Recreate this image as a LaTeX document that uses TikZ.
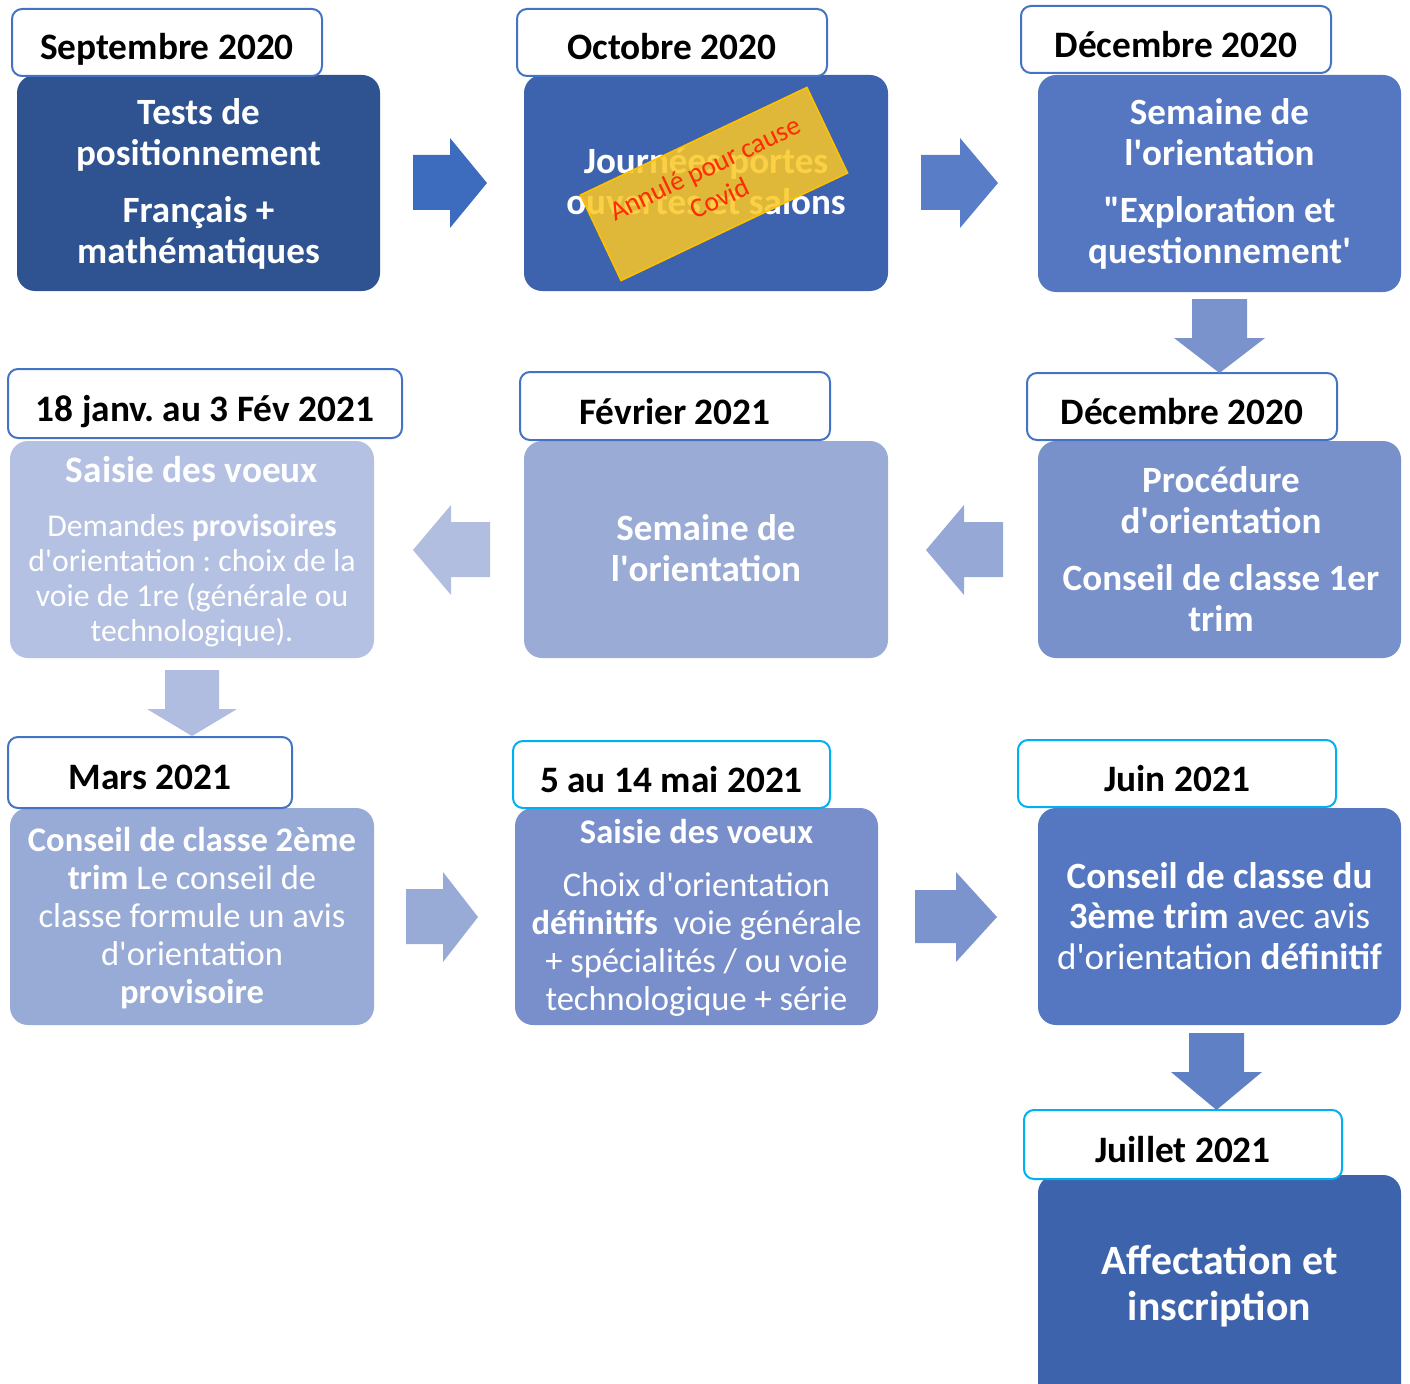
\documentclass[tikz,border=0pt]{standalone}
\usepackage{fontspec}
\setmainfont{Carlito}
\frenchspacing
\newcommand{\ap}{\textquotesingle}
\newcommand{\qd}{\textquotedbl}
\definecolor{hblue}{HTML}{4472C4}
\definecolor{hcyan}{HTML}{00B0F0}
\definecolor{cA}{HTML}{2F5290}
\definecolor{cB}{HTML}{3D63AE}
\definecolor{cC}{HTML}{5577C2}
\definecolor{cD}{HTML}{7891CB}
\definecolor{cE}{HTML}{9AABD6}
\definecolor{cF}{HTML}{B5C1E2}
\definecolor{cG}{HTML}{98AAD6}
\definecolor{cH}{HTML}{798FCB}
\definecolor{cI}{HTML}{5577C1}
\definecolor{cJ}{HTML}{3D63AD}
\definecolor{aR1}{HTML}{3D6CBE}
\definecolor{aR2}{HTML}{5A7DC8}
\definecolor{aD1}{HTML}{7A93CC}
\definecolor{aL2}{HTML}{96A8D6}
\definecolor{aL1}{HTML}{B2BEE0}
\definecolor{aD2}{HTML}{B0BDE0}
\definecolor{aR3}{HTML}{98AAD6}
\definecolor{aR4}{HTML}{7C94CD}
\definecolor{aD3}{HTML}{5F80C5}
\definecolor{covfill}{RGB}{252,200,37}
\definecolor{covdraw}{HTML}{FFC000}
\definecolor{covtext}{HTML}{FF2A00}
\begin{document}
\begin{tikzpicture}[x=0.75pt,y=-0.75pt,
  box/.style n args={3}{fill=#1, draw=none, rounded corners=13.5pt, inner sep=0pt,
    minimum width=#2*0.75pt, minimum height=#3*0.75pt},
  hdr/.style n args={3}{draw=#1, line width=1.5pt, fill=white, rounded corners=7.5pt, inner sep=0pt,
    minimum width=#2*0.75pt, minimum height=#3*0.75pt},
  hdrtxt/.style={anchor=base, inner sep=0pt, text=black, font=\fontsize{28}{32}\selectfont\bfseries},
  bodytxt/.style={text=white, align=center, inner sep=0pt},
  bigtxt/.style={bodytxt, font=\fontsize{27.8}{30.75}\selectfont\bfseries},
]
\useasboundingbox (0,0) rectangle (1410,1384);
\clip (0,0) rectangle (1410,1384);

% ---------- body boxes ----------
\node[box={cA}{363}{216}] (b1) at (198.5,183) {};
\node[box={cB}{364}{216}] (b2) at (706,183) {};
\node[box={cC}{363}{217}] (b3) at (1219.5,183.5) {};
\node[box={cD}{363}{217}] (b4) at (1219.5,549.5) {};
\node[box={cE}{364}{217}] (b5) at (706,549.5) {};
\node[box={cF}{364}{217}] (b6) at (192,549.5) {};
\node[box={cG}{364}{217}] (b7) at (192,916.5) {};
\node[box={cH}{363}{217}] (b8) at (696.5,916.5) {};
\node[box={cI}{363}{217}] (b9) at (1219.5,916.5) {};
\node[box={cJ}{363}{245}] (b10) at (1219.5,1297.5) {};

% ---------- headers ----------
\node[hdr={hblue}{310}{67}] (h1) at (167,42.5) {};
\node[hdr={hblue}{310}{67}] (h2) at (672,42.5) {};
\node[hdr={hblue}{310}{67}] (h3) at (1176,39.5) {};
\node[hdr={hblue}{394}{69}] (h4) at (205,403.5) {};
\node[hdr={hblue}{310}{68}] (h5) at (675,406) {};
\node[hdr={hblue}{310}{67}] (h6) at (1182,406.5) {};
\node[hdr={hblue}{284}{71}] (h7) at (150,772.5) {};
\node[hdr={hcyan}{317}{67}] (h8) at (671.5,774.5) {};
\node[hdr={hcyan}{318}{67}] (h9) at (1177,773.5) {};
\node[hdr={hcyan}{318}{69}] (h10) at (1183,1144.5) {};

\node[hdrtxt] (ht1) at (167,60) {Septembre 2020};
\node[hdrtxt] (ht2) at (672,60) {Octobre 2020};
\node[hdrtxt] (ht3) at (1176,57.5) {Décembre 2020};
\node[hdrtxt] (ht4) at (205,421) {18 janv. au 3 Fév 2021};
\node[hdrtxt] (ht5) at (675,424) {Février 2021};
\node[hdrtxt] (ht6) at (1182,424.5) {Décembre 2020};
\node[hdrtxt] (ht7) at (150,789) {Mars 2021};
\node[hdrtxt] (ht8) at (671.5,792) {5 au 14 mai 2021};
\node[hdrtxt] (ht9) at (1177,791) {Juin 2021};
\node[hdrtxt] (ht10) at (1183,1162) {Juillet 2021};

% ---------- body texts ----------
\node[bigtxt] (bt1) at (198.5,184) {Tests de\\positionnement\\[12pt]Français +\\mathématiques};
\node[bigtxt] (bt2) at (706,181.5) {Journées portes\\ouvertes et salons};
\node[bigtxt] (bt3) at (1219.5,184) {Semaine de\\l\ap orientation\\[12pt]\qd Exploration et\\questionnement\ap};
\node[bigtxt] (bt4) at (1221,549) {Procédure\\d\ap orientation\\[12pt]Conseil de classe 1er\\trim};
\node[bigtxt] (bt5) at (706,548) {Semaine de\\l\ap orientation};
\node[bodytxt, font=\fontsize{23.8}{26.25}\selectfont] (bt6) at (192,551.5)
  {{\fontsize{28}{26.25}\selectfont\bfseries Saisie des voeux}\\[14.25pt]Demandes \textbf{provisoires}\\d\ap orientation : choix de la\\voie de 1re (générale ou\\technologique).};
\node[bodytxt, font=\fontsize{25.9}{28.5}\selectfont] (bt7) at (192,918.5)
  {\textbf{Conseil de classe 2ème}\\\textbf{trim} Le conseil de\\classe formule un avis\\d\ap orientation\\\textbf{provisoire}};
\node[bodytxt, font=\fontsize{25.9}{28.5}\selectfont] (bt8) at (696.5,918)
  {\textbf{Saisie des voeux}\\[11.25pt]Choix d\ap orientation\\\textbf{définitifs}\ \ voie générale\\+ spécialités / ou voie\\technologique + série};
\node[bodytxt, font=\fontsize{27.8}{30.4}\selectfont] (bt9) at (1219.5,916)
  {\textbf{Conseil de classe du}\\\textbf{3ème trim} avec avis\\d\ap orientation \textbf{définitif}};
\node[bodytxt, font=\fontsize{31.3}{34.5}\selectfont\bfseries] (bt10) at (1219.5,1286)
  {Affectation et\\inscription};

% ---------- covid stamp ----------
\node[fill=covfill, fill opacity=0.85, draw=covdraw, line width=1.2pt, rotate=25.4,
  minimum width=188pt, minimum height=71pt, inner sep=0pt] (cv) at (714,184) {};
\node[text=covtext, rotate=25.4, align=center, inner sep=0pt,
  font=\fontsize{20.6}{25}\selectfont] (cvt) at (712,183) {Annulé pour cause\\Covid};

% ---------- block arrows ----------
\fill[aR1] (413,155) -- (450,155) -- (450,138) -- (487,183) -- (450,228) -- (450,210) -- (413,210) -- cycle;
\fill[aR2] (921,155) -- (960,155) -- (960,138) -- (998,183) -- (960,228) -- (960,210) -- (921,210) -- cycle;
\fill[aD1] (1192,299) -- (1247,299) -- (1247,338) -- (1265,338) -- (1219.5,373) -- (1174,338) -- (1192,338) -- cycle;
\fill[aL2] (1003,522) -- (964,522) -- (964,505) -- (926,550) -- (964,595) -- (964,577) -- (1003,577) -- cycle;
\fill[aL1] (490,522) -- (451,522) -- (451,505) -- (413,550) -- (451,595) -- (451,577) -- (490,577) -- cycle;
\fill[aD2] (165,670) -- (219,670) -- (219,709) -- (237,709) -- (192,736) -- (147,709) -- (165,709) -- cycle;
\fill[aR3] (406,889) -- (443,889) -- (443,872) -- (478,917) -- (443,962) -- (443,944) -- (406,944) -- cycle;
\fill[aR4] (915,890) -- (956,890) -- (956,872) -- (997,917) -- (956,962) -- (956,943) -- (915,943) -- cycle;
\fill[aD3] (1189,1033) -- (1244,1033) -- (1244,1072) -- (1262,1072) -- (1216.5,1110) -- (1171,1072) -- (1189,1072) -- cycle;
\end{tikzpicture}
\end{document}
